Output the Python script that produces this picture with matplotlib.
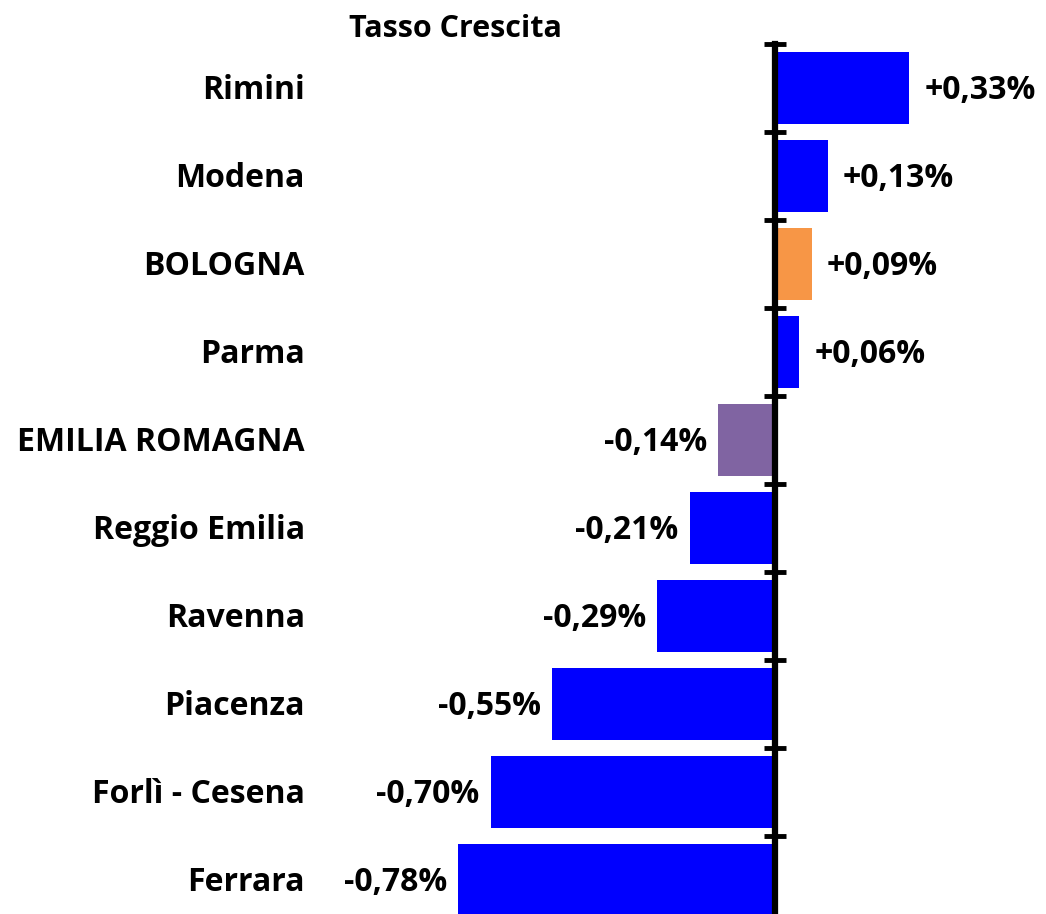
import matplotlib.pyplot as plt
from matplotlib.transforms import blended_transform_factory

# data (percent growth)
province = ["Rimini", "Modena", "BOLOGNA", "Parma", "EMILIA ROMAGNA",
            "Reggio Emilia", "Ravenna", "Piacenza", "Forlì - Cesena", "Ferrara"]
tasso = [0.33, 0.13, 0.09, 0.06, -0.14, -0.21, -0.29, -0.55, -0.70, -0.78]
colori = ["#0000FF", "#0000FF", "#F79646", "#0000FF", "#8064A2",
          "#0000FF", "#0000FF", "#0000FF", "#0000FF", "#0000FF"]

plt.rcParams['font.family'] = ['Open Sans', 'DejaVu Sans']
plt.rcParams['font.weight'] = 'bold'

W, H = 1046, 914
fig = plt.figure(figsize=(W / 100, H / 100), dpi=100)
# zero line at x=775px, 406 px per 1%; rows from y=44px, 88px each
ax = fig.add_axes([0, (H - 924) / H, 1, 880 / H])
ax.set_xlim(-775 / 406, (W - 775) / 406)
ax.set_ylim(len(province) - 0.5, -0.5)

y = list(range(len(province)))
ax.barh(y, tasso, height=0.82, color=colori, zorder=2)

for sp in ["top", "right", "bottom"]:
    ax.spines[sp].set_visible(False)
ax.spines["left"].set_position(("data", 0))
ax.spines["left"].set_linewidth(4.5)
ax.spines["left"].set_zorder(3)
ax.set_xticks([])
ax.set_yticks([i - 0.5 for i in range(len(province) + 1)])
ax.set_yticklabels([])
ax.tick_params(axis="y", direction="inout", length=16, width=3.5)

fs = 23
trans = blended_transform_factory(fig.transFigure, ax.transData)
for i, nome in enumerate(province):
    ax.text(305 / W, i + 0.03, nome, transform=trans, ha="right", va="center",
            fontsize=fs, fontweight="bold")

for i, v in enumerate(tasso):
    testo = ("+" if v > 0 else "-") + f"{abs(v):.2f}".replace(".", ",") + "%"
    if v > 0:
        ax.annotate(testo, (v, i + 0.03), xytext=(11, 0), textcoords="offset points",
                    ha="left", va="center", fontsize=fs, fontweight="bold")
    else:
        ax.annotate(testo, (v, i + 0.03), xytext=(-8, 0), textcoords="offset points",
                    ha="right", va="center", fontsize=fs, fontweight="bold")

fig.text(455 / W, 1 - 29 / H, "Tasso Crescita", ha="center", va="center",
         fontsize=22, fontweight="bold")

fig.savefig("out.png", dpi=100)
